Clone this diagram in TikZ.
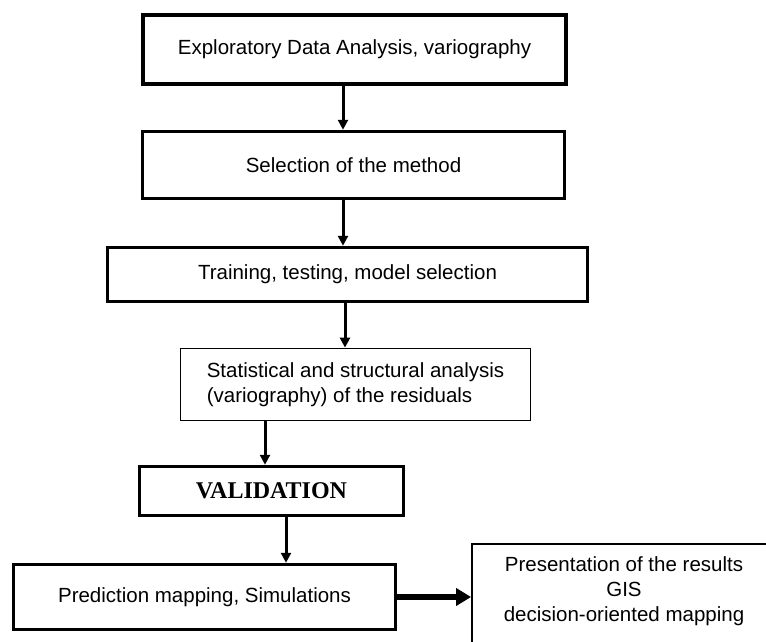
\documentclass[tikz,border=0pt]{standalone}
\usepackage{fontspec}
\setmainfont{Liberation Sans}
\newfontfamily\valfont{Liberation Serif}
\usetikzlibrary{arrows.meta}

\begin{document}
\begin{tikzpicture}[x=1pt, y=-1pt,
    thickbox/.style={draw, line width=3.5pt, inner sep=0pt, font=\fontsize{20.5}{25}\selectfont},
    thinbox/.style={draw, line width=1.8pt, inner sep=0pt, font=\fontsize{20.5}{25}\selectfont},
    flow/.style={line width=3pt, -{Triangle[length=10pt, width=10pt]}},
    bigflow/.style={line width=5.5pt, -{Triangle[length=15pt, width=17pt]}}]
    \clip (0, 0) rectangle (766, 642);

    \node[thickbox, minimum width=423, minimum height=69] (eda) at (354.5, 49.5) {Exploratory Data Analysis, variography};
    \node[thickbox, minimum width=422, minimum height=67] (method) at (353.5, 165) {Selection of the method};
    \node[thickbox, minimum width=480, minimum height=54] (training) at (347.5, 274.5) {Training, testing, model selection};
    \node[thinbox, minimum width=350, minimum height=72, align=left] (residuals) at (355.5, 384.5) {Statistical and structural analysis\\(variography) of the residuals};
    \node[thickbox, minimum width=264, minimum height=49, font=\valfont\bfseries\fontsize{24}{28}\selectfont] (validation) at (271.5, 491) {VALIDATION};
    \node[thickbox, minimum width=382, minimum height=65] (prediction) at (204.5, 597) {Prediction mapping, Simulations};

    \node[thinbox, minimum width=298, minimum height=116] (results) at (621, 602) {};
    \node[align=center, inner sep=0pt, font=\fontsize{20.5}{25}\selectfont] (resultstext) at (624, 591) {Presentation of the results\\GIS\\decision-oriented mapping};

    \draw[flow] ([xshift=-11.5pt]eda.south) -- ([xshift=-10.5pt]method.north);
    \draw[flow] ([xshift=-10.5pt]method.south) -- ([xshift=-4.5pt]training.north);
    \draw[flow] ([xshift=-2.5pt]training.south) -- ([xshift=-10.5pt]residuals.north);
    \draw[flow] ([xshift=-90.5pt]residuals.south) -- ([xshift=-6.5pt]validation.north);
    \draw[flow] ([xshift=14.5pt]validation.south) -- ([xshift=81.5pt]prediction.north);

    \draw[bigflow] (prediction.east) -- (prediction.east -| results.west);
\end{tikzpicture}
\end{document}
